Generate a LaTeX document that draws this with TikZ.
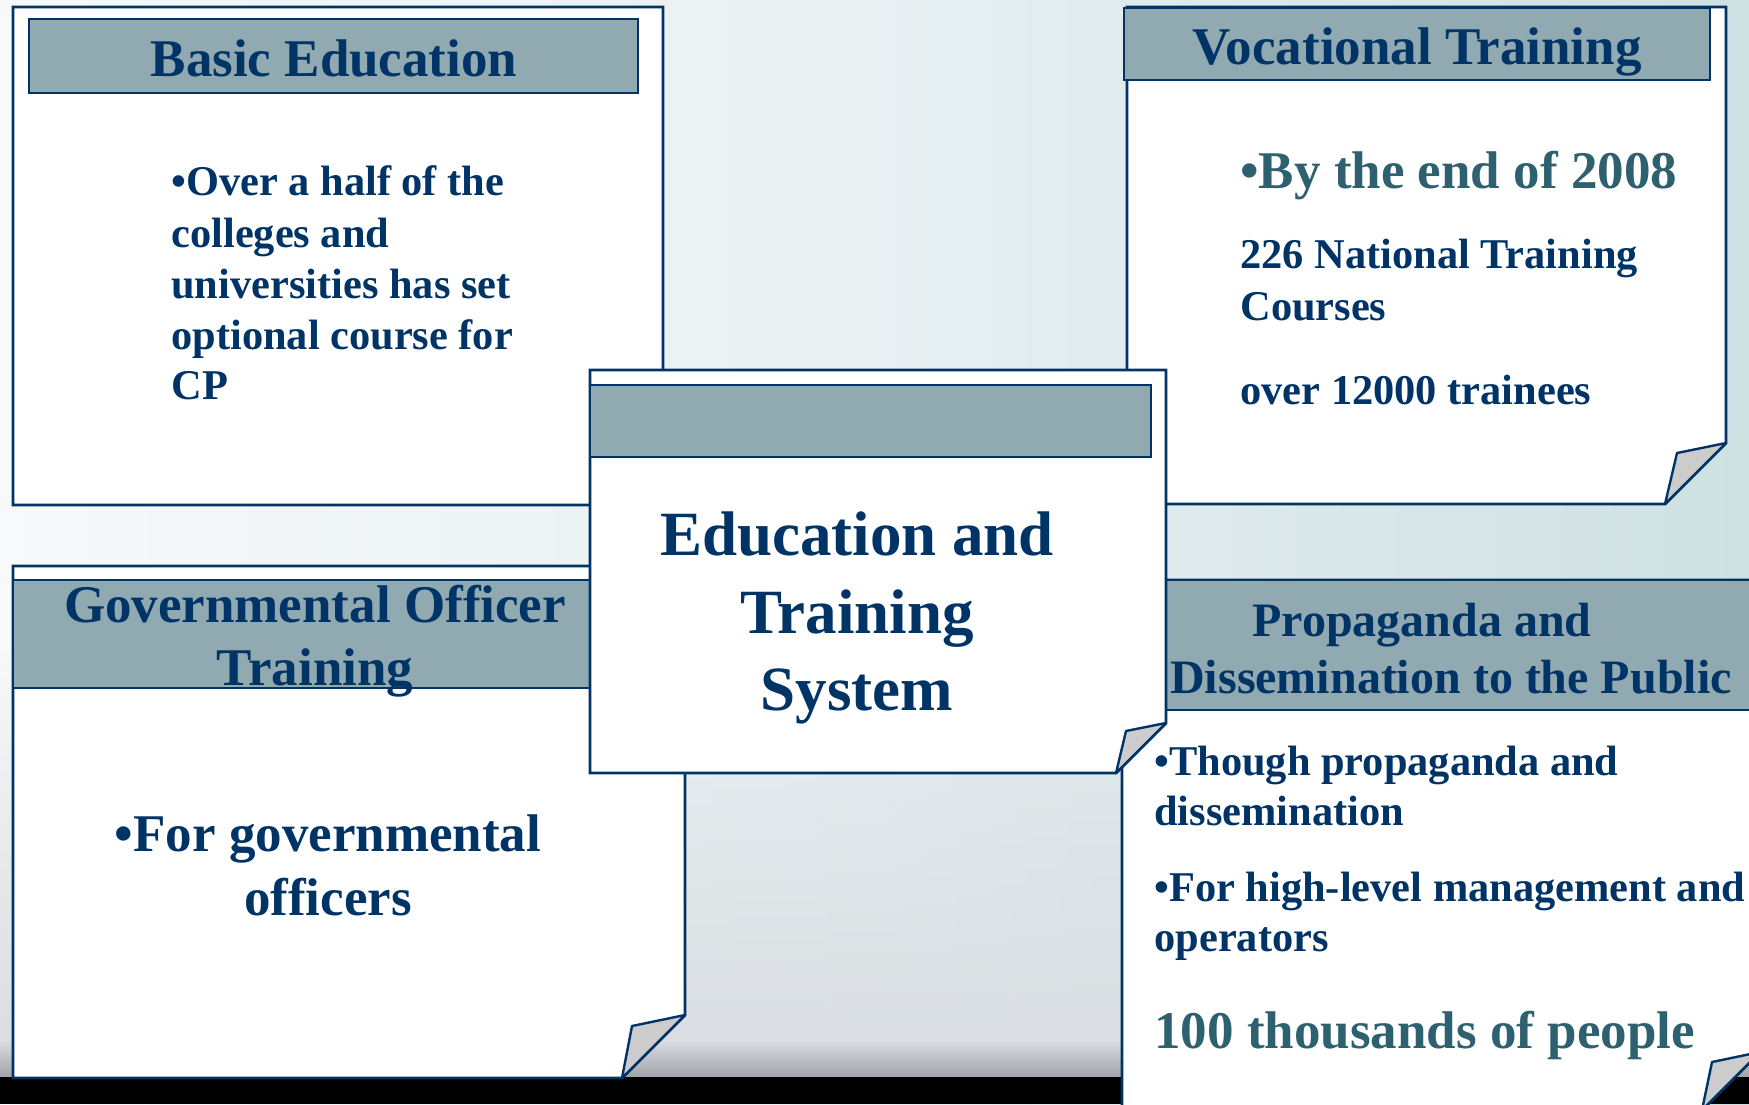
\documentclass[tikz,border=0pt]{standalone}
\usepackage{fontspec}
\usetikzlibrary{fadings}
\setmainfont{Liberation Serif}
\definecolor{navy}{RGB}{0,51,102}
\definecolor{tealtxt}{RGB}{46,97,112}
\definecolor{bandc}{RGB}{145,169,176}
\definecolor{flapc}{RGB}{204,204,204}
\definecolor{bgl}{RGB}{247,249,250}
\definecolor{bgm}{RGB}{232,240,242}
\definecolor{bgr}{RGB}{206,224,226}
\definecolor{lowg}{RGB}{218,222,226}
\definecolor{darkg}{RGB}{158,161,166}
\tikzset{
  boxs/.style={fill=white, draw=navy, line width=1.4pt, line join=miter},
  bands/.style={fill=bandc, draw=navy, line width=1.2pt},
  flaps/.style={fill=flapc, draw=navy, line width=1.2pt, line join=round},
  hdr/.style={font=\fontsize{26.5}{30}\selectfont\bfseries, text=navy, inner sep=0pt, anchor=base},
  hdrs/.style={font=\fontsize{24}{28}\selectfont\bfseries, text=navy, inner sep=0pt, anchor=base},
  bodyl/.style={font=\fontsize{21.2}{25}\selectfont\bfseries, text=navy, inner sep=0pt, anchor=base west},
  bigl/.style={font=\fontsize{26.5}{30}\selectfont\bfseries, inner sep=0pt},
  ctr/.style={font=\fontsize{31.5}{36}\selectfont\bfseries, text=navy, inner sep=0pt, anchor=base},
}
\begin{document}
\begin{tikzpicture}[x=0.5pt, y=-0.5pt]
\useasboundingbox (0,0) rectangle (1749,1104);
\begin{scope}
\clip (0,0) rectangle (1749,1104);
% background
\shade[left color=bgl, right color=bgr, middle color=bgm] (0,0) rectangle (1749,1104);
\fill[lowg, path fading=north] (0,650) rectangle (1749,1041);
\shade[top color=lowg, bottom color=darkg] (0,1040) rectangle (1749,1078);
\fill[black] (0,1077) rectangle (1749,1104);

% Basic Education
\draw[boxs] (13,7) -- (663,7) -- (663,448) -- (606,505) -- (13,505) -- cycle;
\draw[bands] (29,19) rectangle (638,93);
\node[hdr] (beh) at (334,76) {Basic Education};
\node[bodyl] (be1) at (171,195) {•Over a half of the};
\node[bodyl] (be2) at (171,247) {colleges and};
\node[bodyl] (be3) at (171,298) {universities has set};
\node[bodyl] (be4) at (171,349) {optional course for};
\node[bodyl] (be5) at (171,399) {CP};

% Vocational Training
\draw[boxs] (1127,7) -- (1726,7) -- (1726,443) -- (1665,504) -- (1127,504) -- cycle;
\draw[flaps] (1726,443) -- (1677,453) -- (1665,504) -- cycle;
\draw[bands] (1124,8) rectangle (1710,80);
\node[hdr] (vth) at (1417,64) {Vocational Training};
\node[bigl, text=tealtxt, anchor=base west] (vt1) at (1240,188) {•By the end of 2008};
\node[bodyl] (vt2) at (1240,268) {226 National Training};
\node[bodyl] (vt3) at (1240,320) {Courses};
\node[bodyl] (vt4) at (1240,404) {over 12000 trainees};

% Governmental Officer Training
\draw[boxs] (13,566) -- (685,566) -- (685,1015) -- (622,1078) -- (13,1078) -- cycle;
\draw[flaps] (685,1015) -- (632,1026) -- (622,1078) -- cycle;
\draw[bands] (13,580) rectangle (660,688);
\node[hdr] (goh1) at (315,622) {Governmental Officer};
\node[hdr] (goh2) at (315,685) {Training};
\node[bigl, text=navy, anchor=base] (go1) at (328,851) {•For governmental};
\node[bigl, text=navy, anchor=base] (go2) at (328,915) {officers};

% Propaganda
\draw[boxs] (1122,580) -- (1760,580) -- (1760,1052) -- (1702,1110) -- (1122,1110) -- cycle;
\draw[flaps] (1760,1052) -- (1712,1062) -- (1702,1110) -- cycle;
\draw[bands] (1122,580) rectangle (1765,710);
\node[hdrs] (pdh1) at (1422,636) {Propaganda and};
\node[hdrs] (pdh2) at (1451,693) {Dissemination to the Public};
\node[bodyl] (pd1) at (1154,775) {•Though propaganda and};
\node[bodyl] (pd2) at (1154,825) {dissemination};
\node[bodyl] (pd3) at (1154,901) {•For high-level management and};
\node[bodyl] (pd4) at (1154,951) {operators};
\node[bigl, text=tealtxt, anchor=base west] (pd5) at (1154,1048) {100 thousands of people};

% Center box
\draw[boxs] (590,370) -- (1166,370) -- (1166,723) -- (1116,773) -- (590,773) -- cycle;
\draw[flaps] (1166,723) -- (1126,731) -- (1116,773) -- cycle;
\draw[bands] (590,385) rectangle (1151,457);
\node[ctr] (c1) at (857,555) {Education and};
\node[ctr] (c2) at (857,633) {Training};
\node[ctr] (c3) at (857,710) {System};
\end{scope}
\end{tikzpicture}
\end{document}
